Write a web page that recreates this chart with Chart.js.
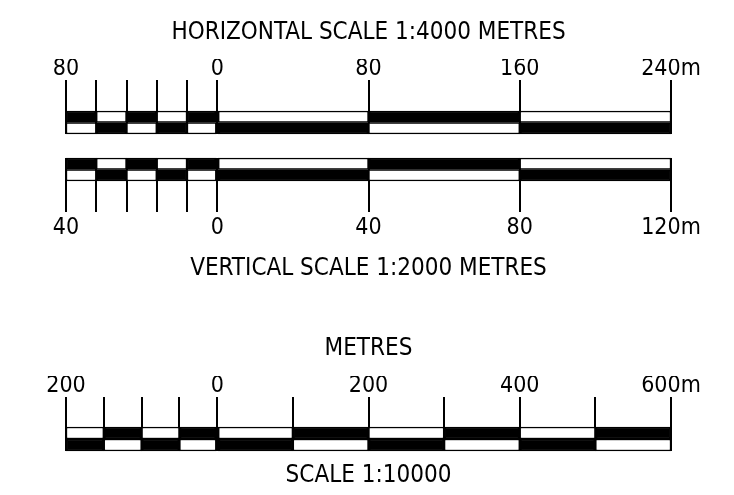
<!DOCTYPE html>
<html>
<head>
<meta charset="utf-8">
<script src="https://cdn.jsdelivr.net/npm/chart.js@4"></script>
<style>
  html, body { margin: 0; padding: 0; background: #fff; }
  body { width: 734px; height: 495px; position: relative; overflow: hidden; }
  canvas { position: absolute; left: 0; }
</style>
</head>
<body>
<canvas id="hScale" width="734" height="138" style="top:0px"></canvas>
<canvas id="vScale" width="734" height="136" style="top:150px"></canvas>
<canvas id="mScale" width="734" height="195" style="top:300px"></canvas>
<script>
// segment boundaries and labelled ticks for each scale bar
const hBounds = [-80, -64, -48, -32, -16, 0, 80, 160, 240];
const hLabelAt = [-80, 0, 80, 160, 240];
const hLabels = ['80', '0', '80', '160', '240m'];

const vBounds = [-40, -32, -24, -16, -8, 0, 40, 80, 120];
const vLabelAt = [-40, 0, 40, 80, 120];
const vLabels = ['40', '0', '40', '80', '120m'];

const mBounds = [-200, -150, -100, -50, 0, 100, 200, 300, 400, 500, 600];
const mLabelAt = [-200, 0, 200, 400, 600];
const mLabels = ['200', '0', '200', '400', '600m'];

const rows = ['upper', 'lower'];

const FONT = "'DejaVu Sans Condensed', 'DejaVu Sans', sans-serif";
const INK = '#000';
const PAPER = '#fff';

// one dataset per segment, upper/lower rows alternate black and white
function segments(bounds, darkFirst) {
    const sets = [];
    for (let i = 0; i < bounds.length - 1; i++) {
        const dark = (i % 2 === 0) === darkFirst;
        sets.push({
            data: rows.map(() => [bounds[i], bounds[i + 1]]),
            backgroundColor: [dark ? INK : PAPER, dark ? PAPER : INK],
            borderColor: INK,
            borderWidth: 1.5,
            borderSkipped: false,
            barPercentage: 1,
            categoryPercentage: 1,
            grouped: false,
            clip: false
        });
    }
    return sets;
}

function titleOpts(text, position, padTop, padBottom) {
    return {
        display: true,
        text: text,
        position: position,
        color: INK,
        font: { family: FONT, size: 24, weight: 'normal', lineHeight: 1 },
        padding: { top: padTop, bottom: padBottom }
    };
}

function scaleBar(id, bounds, labelAt, labels, darkFirst, axis, layoutPad, plugins) {
    new Chart(document.getElementById(id), {
        type: 'bar',
        data: { labels: rows, datasets: segments(bounds, darkFirst) },
        options: {
            indexAxis: 'y',
            responsive: false,
            animation: false,
            events: [],
            layout: { padding: Object.assign({ left: 66, right: 63 }, layoutPad) },
            plugins: Object.assign({
                legend: { display: false },
                tooltip: { enabled: false }
            }, plugins),
            scales: {
                x: {
                    type: 'linear',
                    position: axis.position,
                    min: bounds[0],
                    max: bounds[bounds.length - 1],
                    afterBuildTicks: scale => {
                        scale.ticks = bounds.map(v => ({ value: v }));
                    },
                    grid: {
                        color: INK,
                        lineWidth: 2,
                        tickLength: axis.tickLength,
                        drawOnChartArea: true
                    },
                    border: { display: false },
                    ticks: {
                        autoSkip: false,
                        maxRotation: 0,
                        padding: axis.padding,
                        color: INK,
                        font: { family: FONT, size: 23, lineHeight: 1 },
                        callback: v => {
                            const k = labelAt.indexOf(v);
                            return k < 0 ? '' : labels[k];
                        }
                    }
                },
                y: { display: false }
            }
        }
    });
}

// 1. Horizontal scale
scaleBar('hScale', hBounds, hLabelAt, hLabels, true,
    { position: 'top', tickLength: 31, padding: -1 },
    { top: 0, bottom: 4 },
    { title: titleOpts('HORIZONTAL SCALE 1:4000 METRES', 'top', 20.5, 14.5) });

// 2. Vertical scale
scaleBar('vScale', vBounds, vLabelAt, vLabels, true,
    { position: 'bottom', tickLength: 31, padding: 5 },
    { top: 8, bottom: 0 },
    { title: titleOpts('VERTICAL SCALE 1:2000 METRES', 'bottom', 11.5, 5.5) });

// 3. Metres, 1:10000
scaleBar('mScale', mBounds, mLabelAt, mLabels, false,
    { position: 'top', tickLength: 30, padding: -1 },
    { top: 0, bottom: 0 },
    {
        title: titleOpts('METRES', 'top', 36.5, 15.5),
        subtitle: titleOpts('SCALE 1:10000', 'bottom', 13, 7)
    });
</script>
</body>
</html>
